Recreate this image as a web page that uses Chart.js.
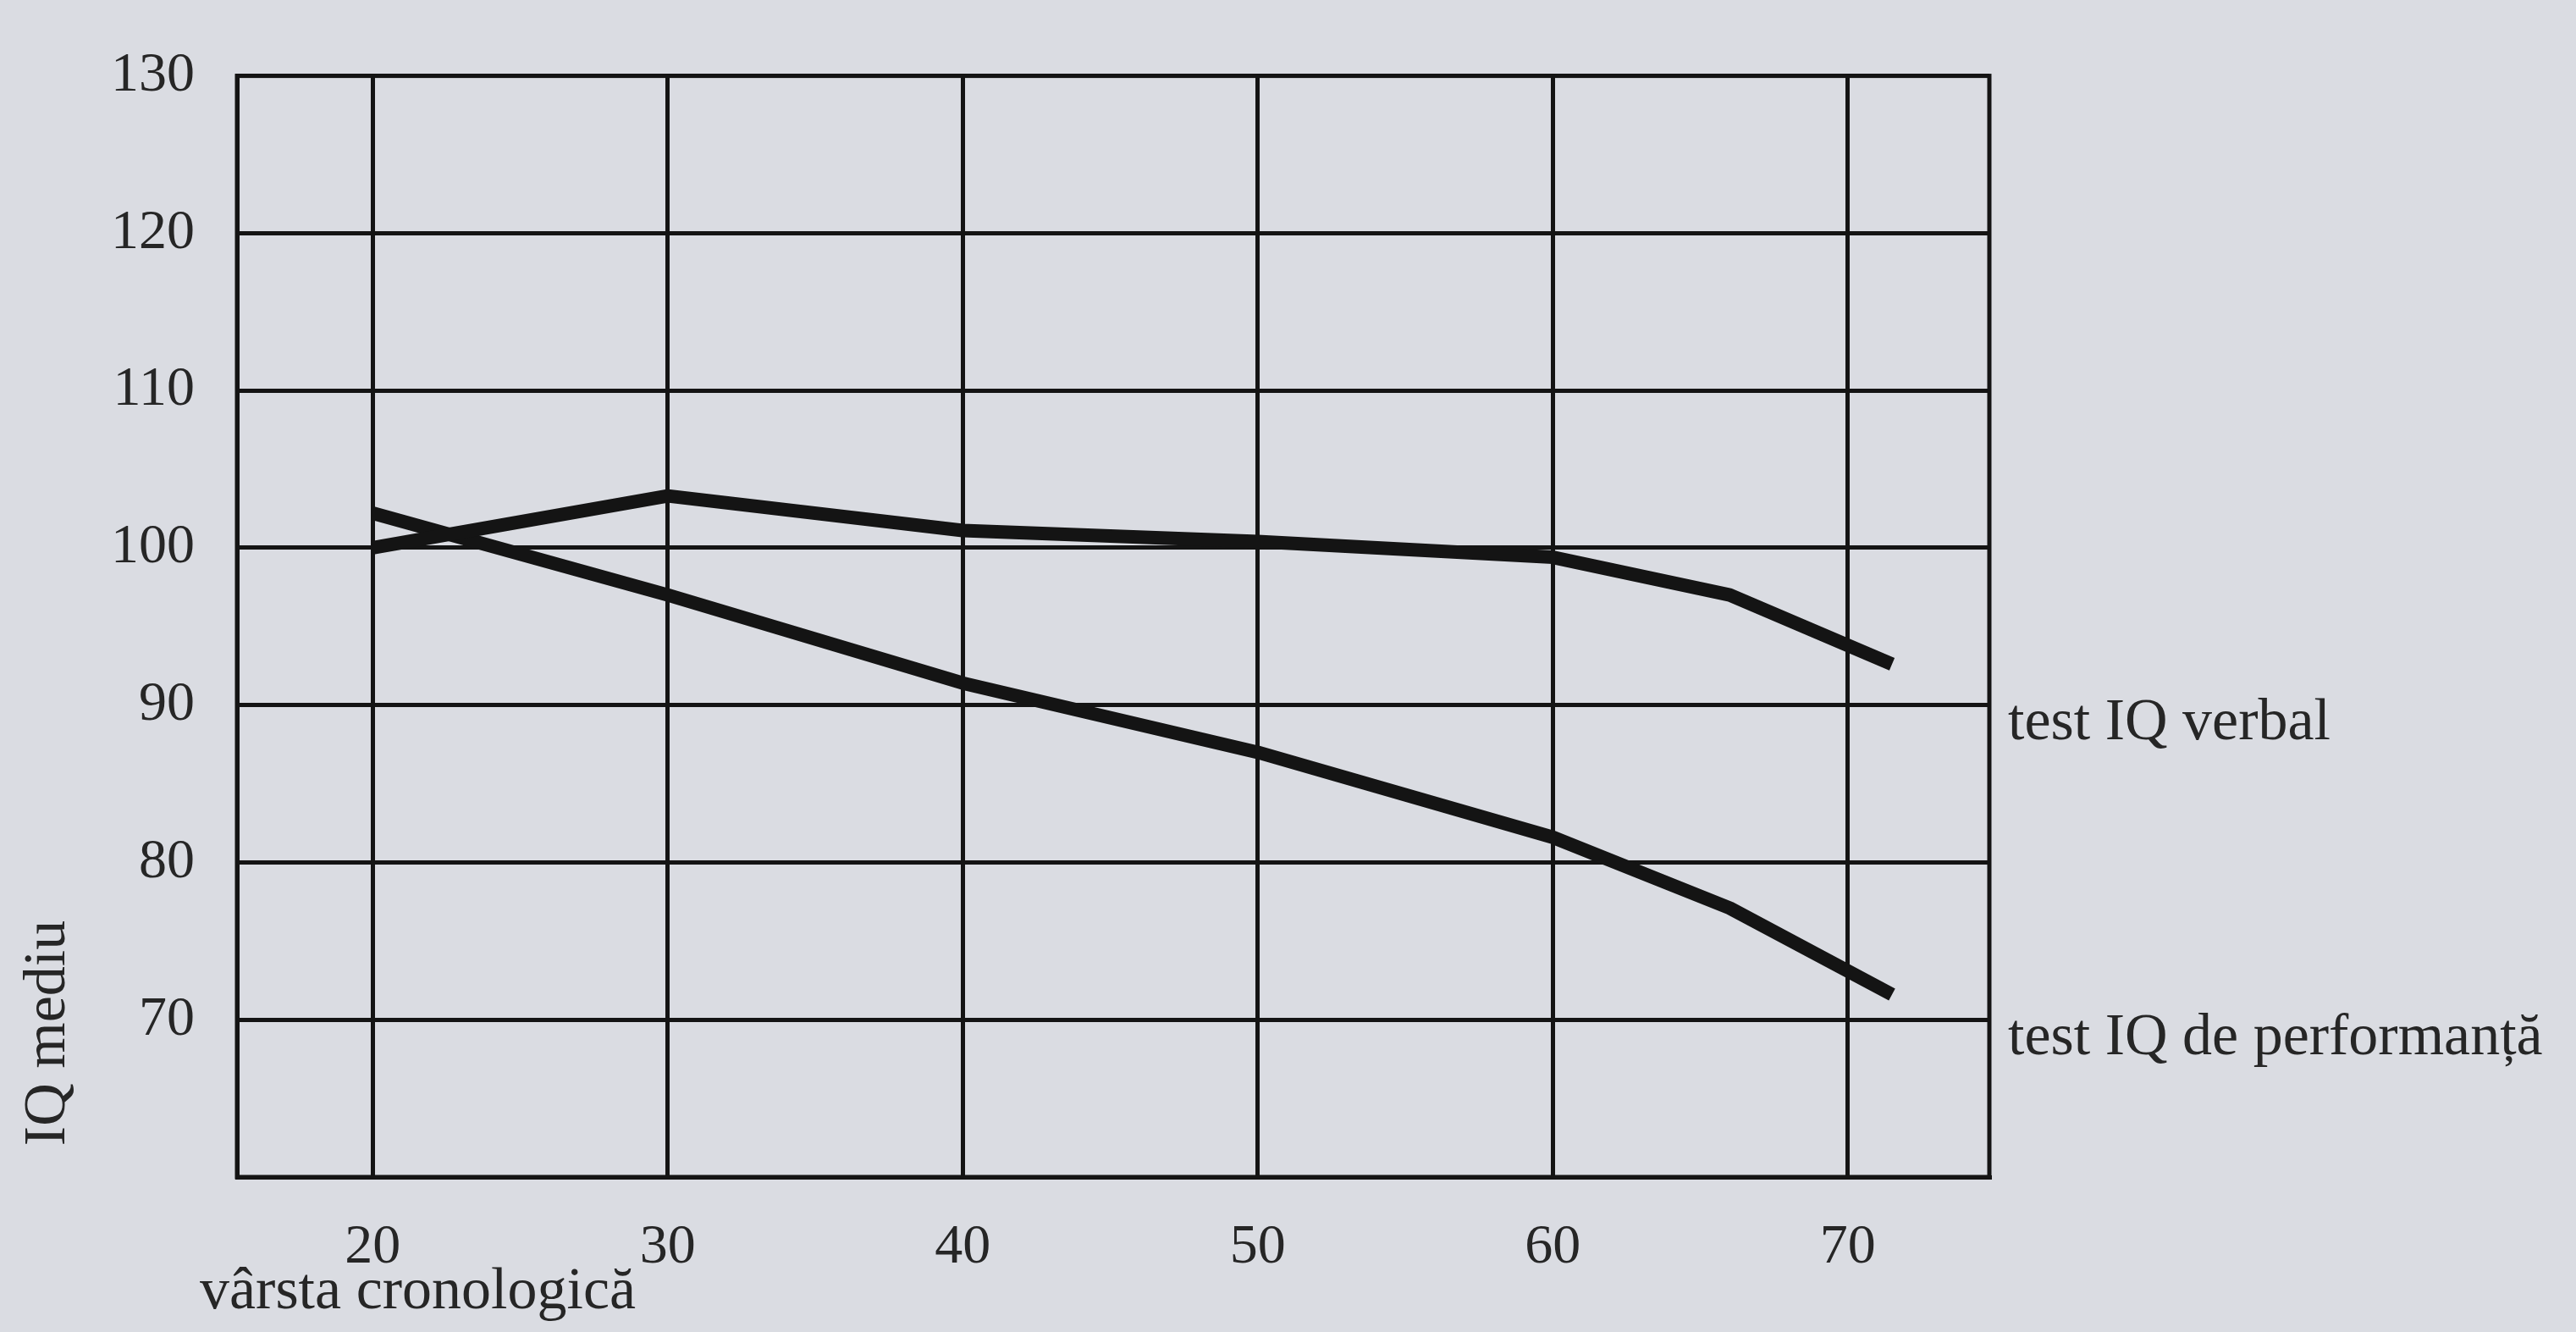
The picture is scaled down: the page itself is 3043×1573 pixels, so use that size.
<!DOCTYPE html>
<html>
<head>
<meta charset="utf-8">
<script src="https://cdn.jsdelivr.net/npm/chart.js@4.4.1/dist/chart.umd.min.js"></script>
<style>
    body { margin: 0; background: #dadce2; }
    canvas { display: block; }
</style>
</head>
<body>
<canvas id="iqChart" width="3043" height="1573"></canvas>
<script>
// valori
const ages = [20, 30, 40, 50, 60, 66, 71.5];
const verbalIQ = [100, 103.3, 101.1, 100.4, 99.4, 97.0, 92.6];
const performanceIQ = [102.2, 97.0, 91.4, 87.0, 81.6, 77.1, 71.6];

const xTicks = [20, 30, 40, 50, 60, 70];
const yTicks = [60, 70, 80, 90, 100, 110, 120, 130];

const seriesLabels = ["test IQ verbal", "test IQ de performanță"];
const labelLevels = [90, 70];
const xTitle = "vârsta cronologică";
const yTitle = "IQ mediu";

const ink = "#141414";
const textInk = "#262626";
const serif = '"Liberation Serif", "DejaVu Serif", serif';

const toPoints = values => ages.map((age, i) => ({ x: age, y: values[i] }));

// rama graficului
const framePlugin = {
    id: "frame",
    beforeDatasetsDraw(chart) {
        const { ctx, chartArea: a } = chart;
        ctx.save();
        ctx.strokeStyle = ink;
        ctx.lineWidth = 5;
        ctx.strokeRect(a.left, a.top, a.right - a.left, a.bottom - a.top);
        ctx.restore();
    }
};

// titluri si etichete de serie
const textPlugin = {
    id: "texts",
    afterDraw(chart) {
        const { ctx, chartArea: a } = chart;
        const yScale = chart.scales.y;
        ctx.save();
        ctx.fillStyle = textInk;
        ctx.font = `70px ${serif}`;

        ctx.textAlign = "left";
        ctx.textBaseline = "middle";
        seriesLabels.forEach((label, i) => {
            ctx.fillText(label, a.right + 22, yScale.getPixelForValue(labelLevels[i]) + 22);
        });

        ctx.textBaseline = "alphabetic";
        ctx.fillText(xTitle, a.left - 44, a.bottom + 155);

        ctx.translate(a.left - 222, a.bottom - 170);
        ctx.rotate(-Math.PI / 2);
        ctx.textAlign = "center";
        ctx.textBaseline = "middle";
        ctx.fillText(yTitle, 0, 0);
        ctx.restore();
    }
};

const ctx = document.getElementById("iqChart").getContext("2d");
new Chart(ctx, {
    type: "line",
    data: {
        datasets: [
            {
                label: seriesLabels[0],
                data: toPoints(verbalIQ),
                borderColor: ink,
                borderWidth: 16,
                borderJoinStyle: "round",
                pointRadius: 0,
                tension: 0
            },
            {
                label: seriesLabels[1],
                data: toPoints(performanceIQ),
                borderColor: ink,
                borderWidth: 16,
                borderJoinStyle: "round",
                pointRadius: 0,
                tension: 0
            }
        ]
    },
    options: {
        responsive: false,
        devicePixelRatio: 1,
        animation: false,
        layout: { padding: { left: 0, top: 60, right: 693, bottom: 0 } },
        plugins: {
            legend: { display: false },
            tooltip: { enabled: false }
        },
        scales: {
            x: {
                type: "linear",
                min: 15.4,
                max: 74.8,
                afterBuildTicks: scale => { scale.ticks = xTicks.map(v => ({ value: v })); },
                afterFit: scale => { scale.height = 183; },
                ticks: {
                    color: textInk,
                    font: { family: serif, size: 66 },
                    padding: 44,
                    maxRotation: 0
                },
                grid: { color: ink, lineWidth: 5, drawTicks: false },
                border: { display: true, color: ink, width: 5 }
            },
            y: {
                min: 60,
                max: 130,
                afterBuildTicks: scale => { scale.ticks = yTicks.map(v => ({ value: v })); },
                afterFit: scale => { scale.width = 280; },
                ticks: {
                    color: textInk,
                    font: { family: serif, size: 66 },
                    padding: 50,
                    callback: value => (value === 60 ? "" : value)
                },
                grid: { color: ink, lineWidth: 5, drawTicks: false },
                border: { display: true, color: ink, width: 5 }
            }
        }
    },
    plugins: [framePlugin, textPlugin]
});
</script>
</body>
</html>
